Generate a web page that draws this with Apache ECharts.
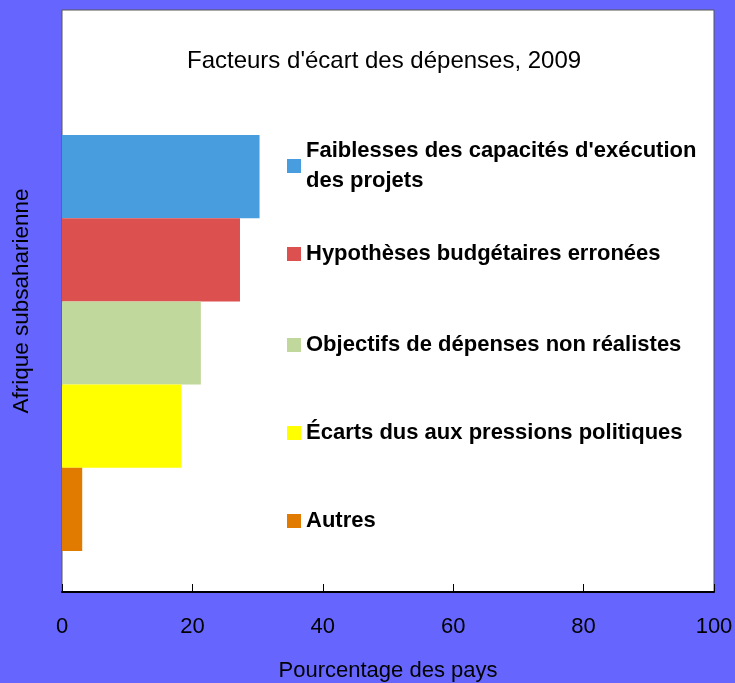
<!DOCTYPE html>
<html>
<head>
<meta charset="utf-8">
<script src="https://cdn.jsdelivr.net/npm/echarts@6/dist/echarts.min.js"></script>
<style>
html, body { margin: 0; padding: 0; background: #6666ff; }
#main { width: 735px; height: 683px; }
</style>
</head>
<body>
<div id="main"></div>
<script>
var chartDom = document.getElementById('main');
var myChart = echarts.init(chartDom);
var option;

const FONT = "'Liberation Sans', Arial, sans-serif";

// data
const regions = ['Afrique subsaharienne'];
const factorNames = [
  "Faiblesses des capacités d'exécution\ndes projets",
  'Hypothèses budgétaires erronées',
  'Objectifs de dépenses non réalistes',
  'Écarts dus aux pressions politiques',
  'Autres'
];
const factorValues = [30.3, 27.3, 21.3, 18.3, 3.1];
const factorColors = ['#479ddd', '#dd5050', '#c0d89c', '#ffff00', '#e07b00'];
const xTicks = { min: 0, max: 100, interval: 20 };

// legend rows sit next to the bars, one legend per factor
const legendTops = [121, 239, 330, 418, 506];

function getLegends() {
  return factorNames.map((name, i) => {
    let textStyle = {
      fontFamily: FONT,
      fontSize: 22,
      fontWeight: 'bold',
      color: '#000',
      lineHeight: 30
    };
    if (name.indexOf('\n') >= 0) {
      textStyle.padding = [30, 0, 0, 0];
    }
    return {
      data: [name],
      orient: 'vertical',
      left: 287,
      top: legendTops[i],
      padding: 0,
      itemWidth: 14,
      itemHeight: 14,
      icon: 'rect',
      selectedMode: false,
      textStyle: textStyle
    };
  });
}

function getSeries() {
  return factorNames.map((name, i) => {
    return {
      name: name,
      type: 'bar',
      xAxisIndex: 1,
      yAxisIndex: 1,
      data: [factorValues[i]],
      barGap: '0%',
      barCategoryGap: '0%',
      itemStyle: { color: factorColors[i] }
    };
  });
}

option = {
  animation: false,
  backgroundColor: '#6666ff',
  title: {
    text: "Facteurs d'écart des dépenses, 2009",
    left: 187,
    top: 49,
    padding: 0,
    textStyle: {
      fontFamily: FONT,
      fontSize: 24,
      fontWeight: 'normal',
      color: '#000'
    }
  },
  legend: getLegends(),
  grid: [
    {
      left: 62,
      right: 21,
      top: 10,
      bottom: 91,
      outerBoundsMode: 'none',
      containLabel: false,
      show: true,
      backgroundColor: '#fff',
      borderColor: '#555',
      borderWidth: 1
    },
    {
      left: 62,
      right: 21,
      top: 135,
      bottom: 132,
      outerBoundsMode: 'none',
      containLabel: false
    }
  ],
  xAxis: [
    {
      gridIndex: 0,
      type: 'value',
      min: xTicks.min,
      max: xTicks.max,
      interval: xTicks.interval,
      name: 'Pourcentage des pays',
      nameLocation: 'middle',
      nameGap: 68,
      nameTextStyle: { fontFamily: FONT, fontSize: 22, color: '#000' },
      axisLine: { show: true, lineStyle: { color: '#000', width: 2 } },
      axisTick: { show: true, inside: true, length: 8, lineStyle: { color: '#000' } },
      axisLabel: { fontFamily: FONT, fontSize: 22, color: '#000', margin: 24 },
      splitLine: { show: false }
    },
    {
      gridIndex: 1,
      type: 'value',
      min: xTicks.min,
      max: xTicks.max,
      show: false
    }
  ],
  yAxis: [
    {
      gridIndex: 0,
      type: 'category',
      data: regions,
      axisLine: { show: false },
      axisTick: { show: false },
      axisLabel: { rotate: 90, fontFamily: FONT, fontSize: 22.5, color: '#000', margin: 29 }
    },
    {
      gridIndex: 1,
      type: 'category',
      data: regions,
      inverse: true,
      show: false
    }
  ],
  series: getSeries()
};

option && myChart.setOption(option);
</script>
</body>
</html>
